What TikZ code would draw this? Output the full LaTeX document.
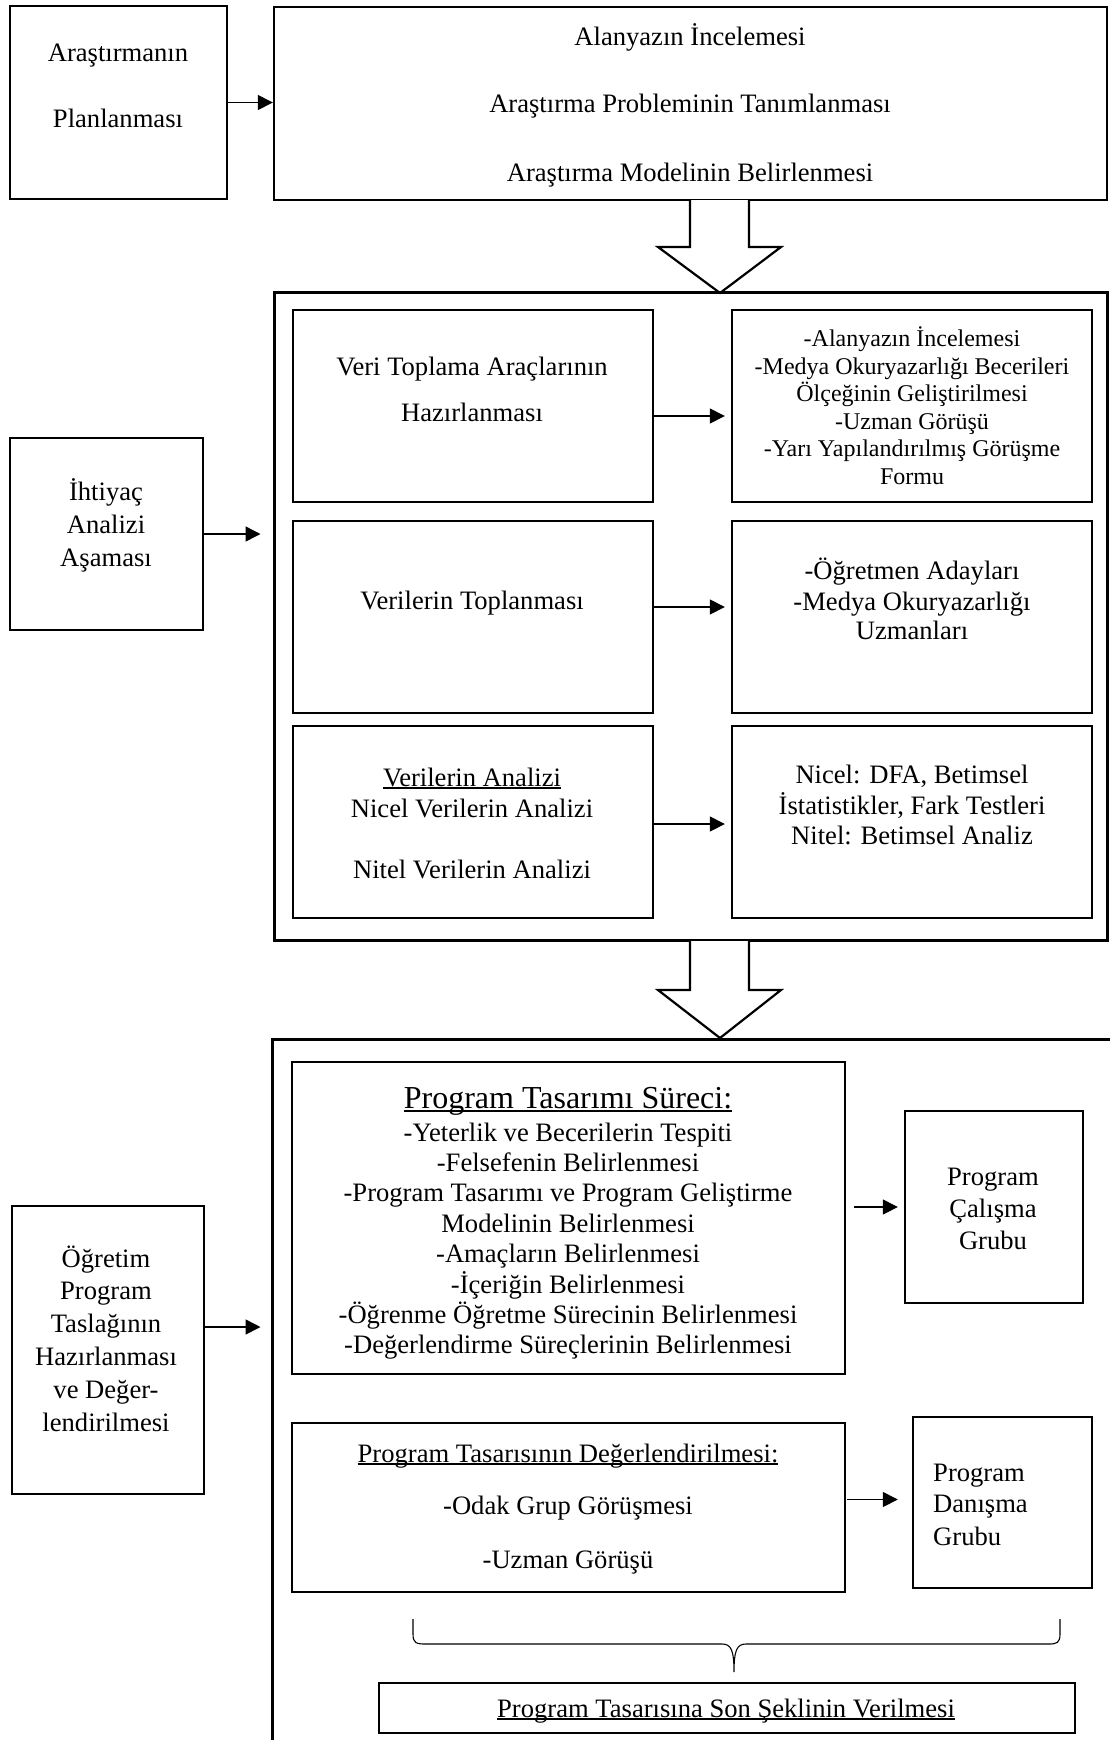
\documentclass[tikz,border=0pt]{standalone}
\usepackage{fontspec}
\setmainfont{Liberation Serif}
\usetikzlibrary{arrows.meta,calc,fit}
\newcommand{\myul}[1]{\setbox0\hbox{#1}\rlap{\rule[-0.12em]{\wd0}{0.07em}}\box0}
\tikzset{
  box/.style={draw, line width=2.4pt, inner sep=0pt},
  bigbox/.style={draw, line width=3pt, inner sep=0pt},
  t/.style={anchor=base, inner sep=0pt, font=\fontsize{26.6}{30}\selectfont},
  ts/.style={anchor=base, inner sep=0pt, font=\fontsize{24}{27}\selectfont},
  tl/.style={anchor=base, inner sep=0pt, font=\fontsize{32}{36}\selectfont},
  conn/.style={line width=1.5pt, -{Triangle[length=15pt,width=15pt]}},
  hollow/.style={draw, line width=2.2pt, fill=white, line join=miter},
  bracepath/.style={line width=1.1pt}
}
\begin{document}
\begin{tikzpicture}[x=1pt,y=-1pt]
\clip (0,0) rectangle (1110,1740);
\fill[white] (0,0) rectangle (1110,1740);
% ---------- top row
\node[box, fit={(10,6) (227,199)}] (plan) {};
\node[t] (plan1) at (118,61) {Araştırmanın};
\node[t] (plan2) at (118,127) {Planlanması};
\node[box, fit={(274,7) (1107,200)}] (lit) {};
\node[t] (lit1) at (690,45) {Alanyazın İncelemesi};
\node[t] (lit2) at (690,112) {Araştırma Probleminin Tanımlanması};
\node[t] (lit3) at (690,181) {Araştırma Modelinin Belirlenmesi};
\draw[conn] (plan.east) -- (plan.east -| lit.west);
% hollow arrow 1
\draw[hollow] (690,200) -- (690,247) -- (658,247) -- (720,293) -- (781,247) -- (749,247) -- (749,200);
% ---------- middle block
\node[bigbox, fit={(274,292) (1107,940)}] (mid) {};
\node[box, fit={(10,438) (203,630)}] (need) {};
\node[t] (need1) at (106,500) {İhtiyaç};
\node[t] (need2) at (106,533) {Analizi};
\node[t] (need3) at (106,566) {Aşaması};
\draw[conn, shorten >=12pt] (need.east) -- (need.east -| mid.west);
\node[box, fit={(293,310) (653,502)}] (r1l) {};
\node[box, fit={(732,310) (1092,502)}] (r1r) {};
\node[box, fit={(293,521) (653,713)}] (r2l) {};
\node[box, fit={(732,521) (1092,713)}] (r2r) {};
\node[box, fit={(293,726) (653,918)}] (r3l) {};
\node[box, fit={(732,726) (1092,918)}] (r3r) {};
\node[t] (r1la) at (472,375) {Veri Toplama Araçlarının};
\node[t] (r1lb) at (472,421) {Hazırlanması};
\foreach \s [count=\i from 0] in {-Alanyazın İncelemesi,-Medya Okuryazarlığı Becerileri,Ölçeğinin Geliştirilmesi,-Uzman Görüşü,-Yarı Yapılandırılmış Görüşme,Formu}
  \node[ts] (r1r\i) at (912,346.5+27.6*\i) {\s};
\node[t] (r2la) at (472,609) {Verilerin Toplanması};
\node[t] (r2ra) at (912,579) {-Öğretmen Adayları};
\node[t] (r2rb) at (912,610) {-Medya Okuryazarlığı};
\node[t] (r2rc) at (912,639) {Uzmanları};
\node[t] (r3la) at (472,786) {\myul{Verilerin Analizi}};
\node[t] (r3lb) at (472,817) {Nicel Verilerin Analizi};
\node[t] (r3lc) at (472,878) {Nitel Verilerin Analizi};
\node[t] (r3ra) at (912,783) {Nicel: DFA, Betimsel};
\node[t] (r3rb) at (912,814) {İstatistikler, Fark Testleri};
\node[t] (r3rc) at (912,844) {Nitel: Betimsel Analiz};
\draw[conn, shorten >=6pt] ($(r1l.east)+(0,10)$) -- ($(r1r.west)+(0,10)$);
\draw[conn, shorten >=6pt] ($(r2l.east)+(0,-10)$) -- ($(r2r.west)+(0,-10)$);
\draw[conn, shorten >=6pt] ($(r3l.east)+(0,2)$) -- ($(r3r.west)+(0,2)$);
% hollow arrow 2
\draw[hollow] (690,941) -- (690,990) -- (658,990) -- (720,1038) -- (781,990) -- (749,990) -- (749,941);
% ---------- bottom block
\node[bigbox, fit={(272,1039) (1135,1765)}] (bot) {};
\node[box, fit={(292,1062) (845,1374)}] (pts) {};
\node[tl] (pts0) at (568,1108) {\myul{Program Tasarımı Süreci:}};
\foreach \s [count=\i from 0] in {-Yeterlik ve Becerilerin Tespiti,-Felsefenin Belirlenmesi,-Program Tasarımı ve Program Geliştirme,Modelinin Belirlenmesi,-Amaçların Belirlenmesi,-İçeriğin Belirlenmesi,-Öğrenme Öğretme Sürecinin Belirlenmesi,-Değerlendirme Süreçlerinin Belirlenmesi}
  \node[t] (pts\i x) at (568,1141+30.4*\i) {\s};
\node[box, fit={(905,1111) (1083,1303)}] (cal) {};
\node[t] (cal1) at (993,1185) {Program};
\node[t] (cal2) at (993,1217) {Çalışma};
\node[t] (cal3) at (993,1249) {Grubu};
\draw[conn, shorten <=8pt, shorten >=6pt] (cal.west -| pts.east) -- (cal.west);
\node[box, fit={(12,1206) (204,1494)}] (ogr) {};
\foreach \s [count=\i from 0] in {Öğretim,Program,Taslağının,Hazırlanması,ve Değer-,lendirilmesi}
  \node[t] (ogr\i x) at (106,1267+32.8*\i) {\s};
\coordinate (oa) at ($(ogr.east)+(0,-23)$);
\draw[conn, shorten >=10pt] (oa) -- (oa -| bot.west);
\node[box, fit={(292,1423) (845,1592)}] (ptd) {};
\node[t] (ptd0) at (568,1462) {\myul{Program Tasarısının Değerlendirilmesi:}};
\node[t] (ptd1) at (568,1514) {-Odak Grup Görüşmesi};
\node[t] (ptd2) at (568,1568) {-Uzman Görüşü};
\node[box, fit={(913,1417) (1092,1588)}] (dan) {};
\node[t, anchor=base west] (dan1) at (933,1481) {Program};
\node[t, anchor=base west] (dan2) at (933,1512) {Danışma};
\node[t, anchor=base west] (dan3) at (933,1545) {Grubu};
\coordinate (da) at ($(dan.west)+(0,-3)$);
\draw[conn, shorten <=1pt, shorten >=14pt] (da -| ptd.east) -- (da);
% brace
\draw[bracepath] (413,1619) -- (413,1634) .. controls (413,1643) and (416,1644) .. (426,1644) -- (722,1644) .. controls (731,1644) and (734,1650) .. (734,1672) .. controls (734,1650) and (737,1644) .. (746,1644) -- (1048,1644) .. controls (1057,1644) and (1060,1643) .. (1060,1634) -- (1060,1619);
\node[box, fit={(379,1683) (1075,1733)}] (fin) {};
\node[t] (fin1) at (726,1717) {\myul{Program Tasarısına Son Şeklinin Verilmesi}};
\end{tikzpicture}
\end{document}
